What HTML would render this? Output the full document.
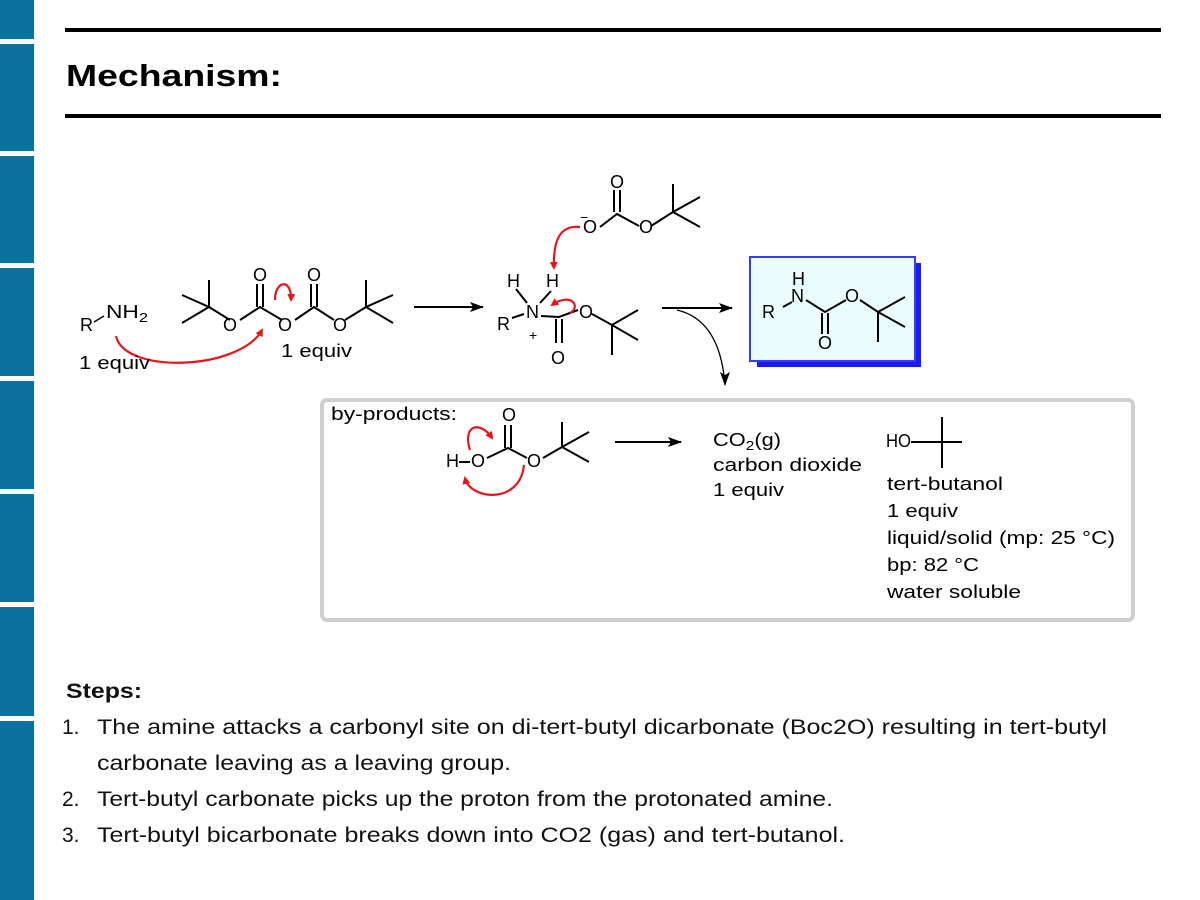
<!DOCTYPE html>
<html><head><meta charset="utf-8"><style>
html,body{margin:0;padding:0;background:#fff;}
body{width:1200px;height:900px;position:relative;overflow:hidden;font-family:"Liberation Sans",Arial,sans-serif;}
.bar{position:absolute;left:0;width:34px;background:#0b729f;}
</style></head><body>
<div class="bar" style="top:0;height:39px"></div>
<div class="bar" style="top:44px;height:107px"></div>
<div class="bar" style="top:156px;height:107px"></div>
<div class="bar" style="top:268px;height:108px"></div>
<div class="bar" style="top:381px;height:108px"></div>
<div class="bar" style="top:494px;height:108px"></div>
<div class="bar" style="top:607px;height:109px"></div>
<div class="bar" style="top:721px;height:179px"></div>
<svg width="1200" height="900" style="position:absolute;left:0;top:0" font-family="Liberation Sans, Arial, sans-serif">
<defs>
<marker id="rh" markerWidth="8" markerHeight="8" refX="6" refY="4" orient="auto" markerUnits="userSpaceOnUse"><path d="M0,0 L8,4 L0,8 z" fill="#e8141b"/></marker>
<marker id="bh" markerWidth="14" markerHeight="10" refX="13" refY="5" orient="auto" markerUnits="userSpaceOnUse"><path d="M0,0 L14,5 L0,10 L3,5 z" fill="#000"/></marker>
<marker id="bh2" markerWidth="10" markerHeight="14" refX="5" refY="13" orient="0" markerUnits="userSpaceOnUse"><path d="M0,0 L5,14 L10,0 L5,3 z" fill="#000"/></marker>
</defs>
<rect x="65" y="28" width="1096" height="4" fill="#000"/>
<text x="66" y="86" font-size="31" font-weight="bold" textLength="216" lengthAdjust="spacingAndGlyphs">Mechanism:</text>
<rect x="65" y="114" width="1096" height="4" fill="#000"/>

<g stroke="#000" stroke-width="2" fill="none">
<path d="M182,295 L209,307 L182,323 M209,307 L209,280 M209,307 L230,320"/>
<path d="M240,320 L260,307 L282,320 M257,307 L257,284 M263,307 L263,284"/>
<path d="M295,320 L314,307 L334,320 M311,307 L311,284 M317,307 L317,284"/>
<path d="M345,320 L366,307 L393,295 M366,307 L393,323 M366,307 L366,280"/>
<path d="M414,307 L483,307" marker-end="url(#bh)"/>
<path d="M516,289 L527,303 M551,291 L540,303 M512,318 L524,314"/>
<path d="M541,316 L559,317 L578,310 M556,319 L556,343 M562,319 L562,343"/>
<path d="M592,314 L612,325 L638,310 M612,325 L638,340 M612,325 L612,355"/>
<path d="M600,227 L617,214 L639,226 M614,212 L614,190 M620,212 L620,190 M651,226 L673,212 L700,197 M673,212 L700,227 M673,212 L673,184"/>
<path d="M662,308 L732,308" marker-end="url(#bh)"/>
<path d="M677,310 Q720,320 725,385" stroke-width="1.3" marker-end="url(#bh2)"/>
</g>
<rect x="757" y="263" width="164" height="104" fill="#1a1aff"/>
<rect x="750" y="257" width="165" height="104" fill="#eafdfc" stroke="#3a3aff" stroke-width="2"/>
<g stroke="#000" stroke-width="2" fill="none">
<path d="M783,307 L792,302 M806,300 L825,312 L846,300 M822,313 L822,334 M828,313 L828,334 M860,300 L878,312 L905,297 M878,312 L905,327 M878,312 L878,342"/>
</g>
<rect x="322" y="400" width="811" height="220" rx="5" fill="#fff" stroke="#cfcfcf" stroke-width="4"/>
<g stroke="#000" stroke-width="2" fill="none">
<path d="M459,462 L470,462 M487,458 L508,448 L527,458 M505,448 L505,425 M511,448 L511,425 M543,458 L562,447 L589,432 M562,447 L589,462 M562,447 L562,422"/>
<path d="M615,442 L681,442" marker-end="url(#bh)"/>
<path d="M911,442 L962,442 M942,442 L942,417 M942,442 L942,468"/>
</g>
<g stroke="#e8141b" stroke-width="2.2" fill="none">
<path d="M116,336 C125,375 240,370 262,330" marker-end="url(#rh)"/>
<path d="M275,300 C275,280 292,278 291,300" marker-end="url(#rh)"/>
<path d="M580,227 C560,225 553,240 554,268" marker-end="url(#rh)"/>
<path d="M570,313 C582,306 570,292 552,305" marker-end="url(#rh)"/>
<path d="M470,450 C462,425 480,420 492,438" marker-end="url(#rh)"/>
<path d="M524,465 C520,505 470,500 465,478" marker-end="url(#rh)"/>
</g>
<g font-size="18" fill="#000">
<text x="80" y="331">R</text><text x="106" y="318" textLength="42" lengthAdjust="spacingAndGlyphs">NH<tspan font-size="13" dy="4">2</tspan></text>
<path d="M94,322 L104,316" stroke="#000" stroke-width="1.5"/>
<text x="79" y="369" textLength="71" lengthAdjust="spacingAndGlyphs">1 equiv</text>
<text x="253" y="281">O</text><text x="307" y="281">O</text>
<text x="223" y="331">O</text><text x="278" y="331">O</text><text x="333" y="331">O</text>
<text x="281" y="357" textLength="71" lengthAdjust="spacingAndGlyphs">1 equiv</text>
<text x="507" y="287">H</text><text x="546" y="287">H</text>
<text x="526" y="318">N</text><text x="497" y="330">R</text>
<text x="529" y="340" font-size="14">+</text>
<text x="551" y="364">O</text><text x="579" y="318">O</text>
<text x="583" y="233">O</text><text x="580" y="222" font-size="14">−</text>
<text x="610" y="188">O</text><text x="639" y="233">O</text>
<text x="762" y="318">R</text><text x="792" y="285">H</text><text x="791" y="302">N</text>
<text x="818" y="349">O</text><text x="845" y="302">O</text>
<text x="331" y="420" textLength="126" lengthAdjust="spacingAndGlyphs">by-products:</text>
<text x="502" y="421">O</text>
<text x="446" y="467">H</text><text x="471" y="467">O</text><text x="527" y="467">O</text>
<text x="713" y="446" textLength="68" lengthAdjust="spacingAndGlyphs">CO<tspan font-size="13" dy="4">2</tspan><tspan dy="-4">(g)</tspan></text>
<text x="713" y="471" textLength="149" lengthAdjust="spacingAndGlyphs">carbon dioxide</text>
<text x="713" y="496" textLength="71" lengthAdjust="spacingAndGlyphs">1 equiv</text>
<text x="886" y="447" textLength="25" lengthAdjust="spacingAndGlyphs">HO</text>
<text x="887" y="490" textLength="116" lengthAdjust="spacingAndGlyphs">tert-butanol</text>
<text x="887" y="517" textLength="71" lengthAdjust="spacingAndGlyphs">1 equiv</text>
<text x="887" y="544" textLength="228" lengthAdjust="spacingAndGlyphs">liquid/solid (mp: 25 °C)</text>
<text x="887" y="571" textLength="92" lengthAdjust="spacingAndGlyphs">bp: 82 °C</text>
<text x="887" y="598" textLength="134" lengthAdjust="spacingAndGlyphs">water soluble</text>
</g>
<g font-size="21" fill="#111">
<text x="66" y="698" font-weight="bold" textLength="76" lengthAdjust="spacingAndGlyphs">Steps:</text>
<text x="62" y="734">1.</text><text x="97" y="734" textLength="1010" lengthAdjust="spacingAndGlyphs">The amine attacks a carbonyl site on di-tert-butyl dicarbonate (Boc2O) resulting in tert-butyl</text>
<text x="97" y="770" textLength="414" lengthAdjust="spacingAndGlyphs">carbonate leaving as a leaving group.</text>
<text x="62" y="806">2.</text><text x="97" y="806" textLength="736" lengthAdjust="spacingAndGlyphs">Tert-butyl carbonate picks up the proton from the protonated amine.</text>
<text x="62" y="842">3.</text><text x="97" y="842" textLength="748" lengthAdjust="spacingAndGlyphs">Tert-butyl bicarbonate breaks down into CO2 (gas) and tert-butanol.</text>
</g>
</svg>
</body></html>
